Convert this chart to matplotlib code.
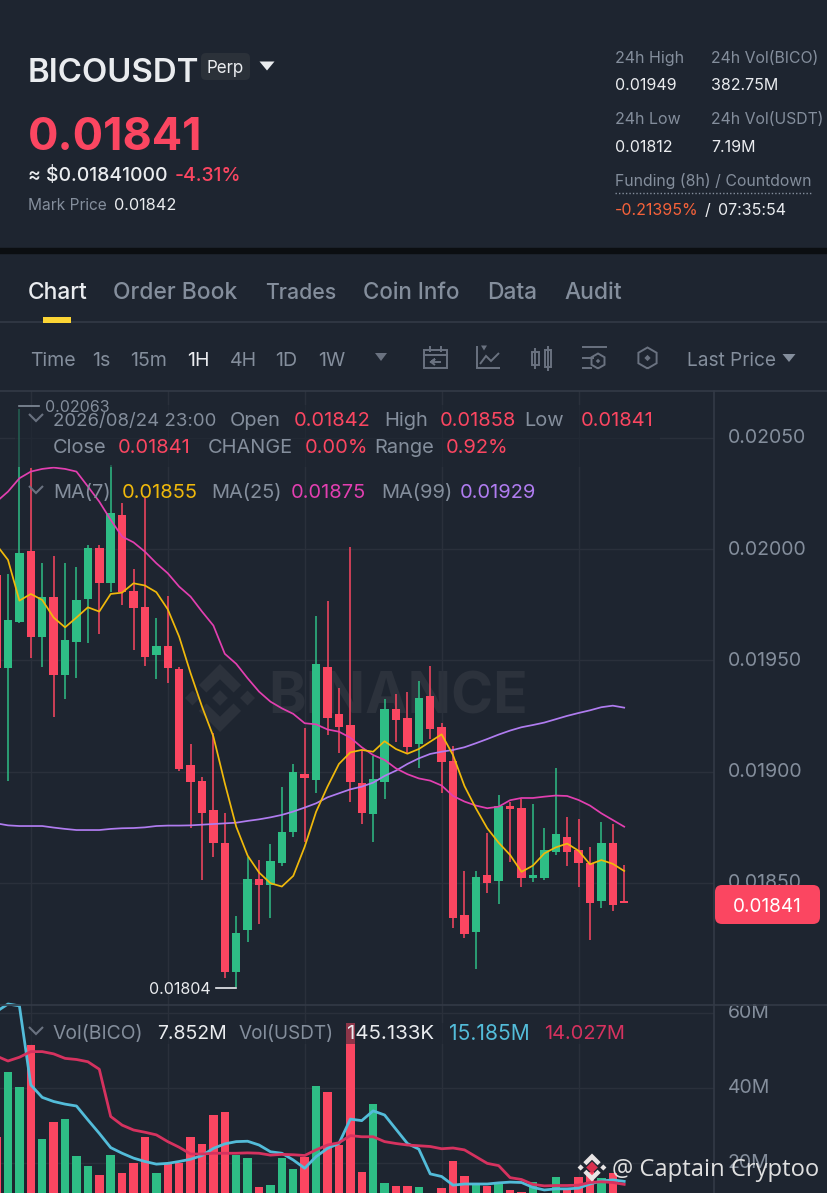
from __future__ import annotations

import matplotlib.pyplot as plt
import numpy as np
from matplotlib.lines import Line2D
from matplotlib.patches import FancyBboxPatch, Polygon, Rectangle
from matplotlib.ticker import FuncFormatter, FormatStrFormatter
from matplotlib.transforms import ScaledTranslation

plt.rcParams["font.family"] = ["Inter", "DejaVu Sans"]

W, H = 828, 1193
BG = "#1e2530"
GRID = "#2a303b"
SEP = "#333a46"
UP = "#2ebd85"
DOWN = "#fb4661"
GRAY = "#848e9c"
WHITE = "#eaecef"

# prices in 1e-5 USDT, first candle is cut by the left edge
CANDLE_INDEX = list(range(-1, 55))
OPEN = [1988.5, 1946.5, 1967.5, 1999.2, 1960.4, 1978.4, 1943.5, 1958.5, 1977.5, 2000.4, 1984.7, 2015.4, 1981.3, 1974.2,
        1952.5, 1956.3, 1946.2, 1903, 1896, 1882.8, 1867.8, 1809.9, 1828.9, 1851.7, 1849.1, 1859.2, 1873, 1899,
        1896.3, 1947.2, 1926.1, 1921, 1894.8, 1881, 1895.3, 1928.1, 1924, 1912.3, 1934, 1920, 1905, 1835.6,
        1828.1, 1853.6, 1851.1, 1884.8, 1883.9, 1852.1, 1852.1, 1864.1, 1870.8, 1864.8, 1858.9, 1842.1, 1867.8, 1842]
HIGH = [1990, 1988.9, 2063, 2036.4, 1994, 1997, 1994, 1991.9, 2001.9, 2001.9, 2037.9, 2021, 1991, 2023.4,
        1969, 1979, 1947, 1912.5, 1897.5, 1917.6, 1881.3, 1835.2, 1861.9, 1860.4, 1867.4, 1893.3, 1903.5, 1919.5,
        1970, 1976.9, 1937.8, 2001.2, 1909.8, 1907.1, 1932.6, 1934.8, 1935.7, 1940.8, 1947.5, 1921.8, 1911.6, 1855.4,
        1855.4, 1872.3, 1889.6, 1886.6, 1887.6, 1885.4, 1874.6, 1901.5, 1879.5, 1878.6, 1866.3, 1877.3, 1876.4, 1858]
LOW = [1940, 1895.9, 1966.7, 1951, 1947, 1924.8, 1932.7, 1942, 1958, 1962, 1981, 1975, 1954.8, 1947.7,
       1941.7, 1939.8, 1900.5, 1874.6, 1851.4, 1861.5, 1807.5, 1803.4, 1823.3, 1831.4, 1834.4, 1857.7, 1870.5, 1868.6,
       1890.6, 1916.5, 1908.6, 1886.6, 1876.5, 1868.6, 1887.6, 1913.5, 1908.3, 1901.5, 1914.7, 1890.6, 1829.6, 1825.4,
       1811.4, 1845.4, 1840.4, 1859.6, 1848.4, 1850.6, 1851.4, 1862.6, 1857.7, 1848.4, 1824.4, 1838.6, 1837.4, 1841]
CLOSE = [1946.5, 1968.2, 1998.5, 1960.4, 1978.4, 1943.5, 1959.2, 1977.2, 2000.4, 1984.7, 2016.5, 1980.7, 1973.5, 1951.5,
         1956.3, 1946.5, 1901.2, 1895.2, 1881.3, 1868.1, 1809.9, 1827.7, 1851.7, 1849.1, 1859.8, 1872.8, 1900, 1897.3,
         1948.3, 1924.3, 1920.3, 1895.3, 1881.3, 1896.8, 1928.1, 1923.3, 1911.3, 1933, 1919.2, 1904.2, 1834.1, 1827,
         1852.6, 1850.2, 1884.8, 1883.3, 1852.1, 1853.6, 1864.8, 1871.9, 1864.1, 1859.2, 1841.2, 1867.8, 1840.1, 1841]

MA7 = [2001.9, 1995.2, 1976.9, 1979.9, 1977.2, 1969.3, 1964.9, 1969.3, 1973.9, 1972, 1979.9, 1980.5, 1984.7, 1983.7,
       1980.7, 1973, 1960.7, 1944.3, 1929.3, 1915.8, 1894.8, 1875.3, 1862.3, 1854.7, 1849.9, 1848.4, 1853.2, 1866.3,
       1882, 1893.3, 1903.5, 1908.7, 1909.8, 1909, 1913.7, 1910.2, 1908.1, 1910.2, 1913.5, 1916.8, 1907.5, 1893.6,
       1883.6, 1874.6, 1868.1, 1862.6, 1855, 1857.8, 1863.3, 1866, 1867.7, 1864.5, 1858.4, 1860.3, 1858.6, 1855.4]
MA25 = [2021.4, 2025.9, 2031.9, 2034.9, 2036.1, 2036.7, 2036.1, 2034.9, 2028.2, 2021.4, 2013.2, 2005.7, 2003.1, 1998.9,
        1993.7, 1989.2, 1983.2, 1978.7, 1972, 1965.7, 1953, 1948.5, 1942, 1936, 1931.5, 1928.5, 1926, 1921.8,
        1921.3, 1919, 1918, 1915.3, 1911, 1907.5, 1905.3, 1901.5, 1898.9, 1897, 1896, 1893.8, 1889.1, 1886.6,
        1884.8, 1883.6, 1884.3, 1887.2, 1888.2, 1888.2, 1888.8, 1889.3, 1889.1, 1887.3, 1884.8, 1881.3, 1878.3, 1875.3]
MA99 = [1876.8, 1875.9, 1875.6, 1875.6, 1875.6, 1874.9, 1874.3, 1873.8, 1873.8, 1873.8, 1874.3, 1874.6, 1874.7, 1875,
        1875.6, 1875.8, 1875.8, 1875.9, 1876.2, 1876.5, 1876.8, 1877.1, 1877.9, 1878.6, 1879.5, 1880.6, 1882.1, 1883.9,
        1885.8, 1888.5, 1890.3, 1892.1, 1893.3, 1895.1, 1898.1, 1900.5, 1903.5, 1906, 1908, 1909, 1909.8, 1911,
        1912.8, 1914.7, 1916.7, 1918.5, 1920, 1921, 1922.1, 1923.6, 1925.1, 1926.4, 1927.6, 1929, 1929.7, 1928.8]

# volume in millions of BICO
VOLUME = [27, 44.2, 40.2, 51.5, 26.3, 31, 31.8, 21.9, 19.2, 16.9, 22.1, 17.2, 19.9, 26.8,
          17.4, 19.9, 19.9, 27, 25, 32.8, 33.7, 22, 21.2, 13.5, 14, 21.4, 18.3, 21.7,
          40.5, 38.9, 24.8, 57.2, 17.7, 35.8, 14.6, 13.9, 13.9, 13.5, 11, 13.2, 20.4, 16.6,
          14.1, 13.9, 14.8, 12.8, 12.2, 15, 11.5, 16.2, 12.8, 16.3, 17.7, 16.1, 17.2, 7.852]
VOL_MA_BLUE = [60.4, 62.4, 61.9, 40.8, 37.5, 36.4, 35.7, 35.2, 31.5, 27.9, 24.1, 22.6, 21.3, 20.4,
               19.7, 19.9, 20.4, 21, 22, 23.9, 25.1, 25.7, 25.8, 24.8, 23, 22.6, 20.8, 18.6,
               21.7, 23.9, 25.2, 31.7, 31.3, 33.9, 32.8, 29, 25.2, 23.7, 17.1, 16.4, 14.1, 14.4,
               14.4, 14.4, 14.7, 14.9, 14.8, 13.5, 12.8, 13.1, 13.1, 13.3, 14.4, 15.2, 15.5, 15.1]
VOL_MA_RED = [48.5, 47.2, 48.2, 49.7, 49.7, 49.1, 47.9, 47.6, 47, 45, 32.4, 30.1, 28.8, 28.2,
              27.5, 25.7, 24.2, 22.4, 22.4, 22.6, 22.6, 22.6, 22.7, 22.6, 22.1, 22.3, 22.2, 22,
              23.5, 24.8, 25.4, 27.3, 27, 27, 25.7, 25.2, 24.8, 24.6, 24.4, 23.8, 24, 23.5,
              21.7, 19.9, 19.3, 16.1, 15.6, 14.3, 13.9, 14, 14, 14.1, 14.8, 15, 14.8, 14.3]

PRICE_TICKS = [0.0185, 0.0190, 0.0195, 0.0200, 0.0205]
VOLUME_TICKS = [20, 40, 60]
TIME_GRID = [2, 14, 26, 38, 50]
TABS = [("Chart", 28, WHITE, 22.8), ("Order Book", 113, GRAY, 22.8), ("Trades", 265, GRAY, 21.3),
        ("Coin Info", 363, GRAY, 22.4), ("Data", 487, GRAY, 22.8), ("Audit", 564, GRAY, 22.8)]
INTERVALS = [("Time", 30, GRAY), ("1s", 92, GRAY), ("15m", 130, GRAY), ("1H", 187, WHITE),
             ("4H", 230, GRAY), ("1D", 275, GRAY), ("1W", 318, GRAY)]

fig = plt.figure(figsize=(W / 100, H / 100), dpi=100)
fig.patch.set_facecolor(BG)


def px_axes(left, top, right, bottom, **kw):
    return fig.add_axes([left / W, 1 - bottom / H, (right - left) / W, (bottom - top) / H], **kw)


def px_overlay(**kw):
    a = px_axes(0, 0, W, H, **kw)
    a.set_xlim(0, W)
    a.set_ylim(H, 0)
    a.axis("off")
    a.patch.set_alpha(0)
    return a


# faint mark sits under the candles, all other chrome above them
back = px_overlay(zorder=1)
ax = px_axes(0, 391, 714, 1005, zorder=2)
ax_vol = px_axes(0, 1005, 714, 1193, zorder=2)
ui = px_overlay(zorder=5)

# candle pane
idx = np.array(CANDLE_INDEX)
o, h, l, c = [np.array(a) / 1e5 for a in (OPEN, HIGH, LOW, CLOSE)]
colors = [UP if b >= a else DOWN for a, b in zip(o, c)]
bar_w = 0.74
ax.vlines(idx, l, h, colors=colors, linewidth=1.1, zorder=3)
ax.bar(idx, np.abs(c - o), bottom=np.minimum(o, c), width=bar_w, color=colors, zorder=3)
ax.plot(idx, np.array(MA99) / 1e5, color="#b07cf0", lw=1.25, zorder=4)
ax.plot(idx, np.array(MA25) / 1e5, color="#e23fb0", lw=1.25, zorder=4)
ax.plot(idx, np.array(MA7) / 1e5, color="#f0b90b", lw=1.25, zorder=4)
ax.set_xlim(-0.701, 61.87)
ax.set_ylim(0.0179516, 0.0207112)
ax.set_yticks(PRICE_TICKS)
ax.yaxis.set_major_formatter(FormatStrFormatter("%.5f"))

# volume pane
ax_vol.bar(idx, VOLUME, width=bar_w, color=colors, zorder=3)
ax_vol.plot(idx, VOL_MA_BLUE, color="#53bcd9", lw=2.0, zorder=4, clip_on=False)
ax_vol.plot(idx, VOL_MA_RED, color="#d6325f", lw=2.0, zorder=4)
ax_vol.set_xlim(ax.get_xlim())
ax_vol.set_ylim(12, 62.13)
ax_vol.set_yticks(VOLUME_TICKS)
ax_vol.yaxis.set_major_formatter(FuncFormatter(lambda v, _: f"{v:.0f}M"))

up_shift = ScaledTranslation(0, 1.5 / 100, fig.dpi_scale_trans)
for a in (ax, ax_vol):
    a.set_facecolor("none")
    a.yaxis.tick_right()
    a.set_xticks(TIME_GRID)
    a.tick_params(axis="x", length=0, labelbottom=False)
    a.tick_params(axis="y", length=0, pad=10, labelsize=14, labelcolor=GRAY)
    a.grid(color=GRID, lw=1.0, zorder=0)
    a.set_axisbelow(True)
    for s in a.spines.values():
        s.set_visible(False)
    for lab in a.get_yticklabels():
        lab.set_transform(lab.get_transform() + up_shift)


def label(x, y, s, color=GRAY, px=20, weight="normal", ha="left", family=None, **kw):
    # y is the middle of the capitals, px the font size in pixels
    return ui.text(x, y + 0.36 * px, s, color=color, fontsize=px * 0.72, fontweight=weight, ha=ha, va="baseline",
                   family=family if family else ["Inter", "DejaVu Sans"], **kw)


def hline(x0, x1, y, color=SEP, lw=1.2, **kw):
    ui.add_line(Line2D([x0, x1], [y, y], color=color, lw=lw, **kw))


def poly(xs, ys, color=GRAY, lw=1.4):
    ui.add_line(Line2D(xs, ys, color=color, lw=lw, solid_joinstyle="miter", solid_capstyle="butt"))


def tri(x, y, w, hh, color):
    ui.add_patch(Polygon([(x - w, y - hh), (x + w, y - hh), (x, y + hh)], color=color, lw=0))


def chevron(x, y):
    poly([x - 7, x, x + 7], [y - 4, y + 3, y - 4], color="#6a7280", lw=1.5)


def diamond(target, x, y, s, color, zorder=2):
    target.add_patch(Polygon([(x, y - s), (x + s, y), (x, y + s), (x - s, y)], color=color, lw=0, zorder=zorder))


def logo(target, x, y, r, color, centre=None, zorder=2):
    # chevrons above and below, three small diamonds across the middle
    upper = [(0, -1), (0.62, -0.38), (0.40, -0.16), (0, -0.55), (-0.40, -0.16), (-0.62, -0.38)]
    for sign in (1, -1):
        target.add_patch(Polygon([(x + u * r, y + sign * v * r) for u, v in upper], color=color, lw=0, zorder=zorder))
    diamond(target, x - 0.81 * r, y, 0.22 * r, color, zorder)
    diamond(target, x + 0.81 * r, y, 0.22 * r, color, zorder)
    diamond(target, x, y, 0.23 * r if centre is None else 0.42 * r, centre or color, zorder)


# header
hline(0, W, 251, color="#0b0e11", lw=4.6)
label(28, 70, "BICOUSDT", WHITE, 33, "semibold")
ui.add_patch(FancyBboxPatch((201, 53), 49, 27, boxstyle="round,pad=0,rounding_size=5", fc="#2b3139", ec="none"))
label(225, 67, "Perp", WHITE, 17, ha="center")
tri(267, 66, 7.5, 4.5, WHITE)
label(28, 134, "0.01841", DOWN, 45, "bold")
label(28, 174, "≈ $0.01841000", WHITE, 19.4, "medium")
label(175, 174, "-4.31%", DOWN, 19.4, "medium")
label(28, 204, "Mark Price", GRAY, 15.5)
label(114, 204, "0.01842", WHITE, 16.3)
label(615, 57, "24h High", GRAY, 16)
label(711, 57, "24h Vol(BICO)", GRAY, 15.8)
label(615, 84, "0.01949", WHITE, 16)
label(711, 84, "382.75M", WHITE, 16)
label(615, 118, "24h Low", GRAY, 16)
label(711, 118, "24h Vol(USDT)", GRAY, 15.8)
label(615, 146, "0.01812", WHITE, 16)
label(711, 146, "7.19M", WHITE, 16)
label(615, 180, "Funding (8h) / Countdown", GRAY, 15.8)
hline(615, 812, 193, color=GRAY, lw=1.0, linestyle=(0, (1, 1.5)))
label(615, 209, "-0.21395%", "#f6623a", 16)
label(705, 209, "/", WHITE, 16)
label(718, 209, "07:35:54", WHITE, 16)

# tabs
for text, x, col, size in TABS:
    label(x, 291, text, col, size, "medium")
ui.add_patch(Rectangle((43, 317), 28, 6, color="#fcd535", lw=0, zorder=3))
hline(0, W, 322)
hline(0, W, 390.5)
hline(0, W, 1005)
ui.add_line(Line2D([714, 714], [391, H], color=SEP, lw=1.2))

# toolbar
for text, x, col in INTERVALS:
    label(x, 359, text, col, 19.5)
tri(381, 357, 6, 4, "#6a7280")
label(687, 359, "Last Price", GRAY, 19)
tri(789, 358, 6.5, 4, GRAY)

ic = "#6a7280"
ui.add_patch(Rectangle((424, 350), 23, 18, fc="none", ec=ic, lw=1.4))
hline(424, 447, 355, color=ic, lw=1.4)
poly([430, 430], [346, 352], ic)
poly([441, 441], [346, 352], ic)
poly([441, 431, 435, 431, 435], [362, 362, 359, 362, 365], ic)
poly([477, 477, 500], [346, 368, 368], ic)
poly([480, 486, 491, 499], [364, 356, 361, 353], ic)
tri(484, 348, 3, 2.5, ic)
ui.add_patch(Rectangle((532, 352), 7, 13, fc="none", ec=ic, lw=1.4))
ui.add_patch(Rectangle((545, 350), 6, 17, fc="none", ec=ic, lw=1.4))
poly([535.5, 535.5], [348, 369], ic)
poly([548, 548], [346, 371], ic)
hline(583, 606, 347, color=ic, lw=1.4)
hline(583, 593, 358, color=ic, lw=1.4)
hline(583, 591, 368, color=ic, lw=1.4)
for cx, cy, r in [(598, 361, 7.5), (647.5, 358, 10.5)]:
    ang = np.deg2rad(np.arange(90, 451, 60))
    poly(cx + r * np.cos(ang), cy + r * np.sin(ang), ic)
    diamond(ui, cx, cy, r * 0.3, ic)

# faint exchange mark under the candles
logo(back, 220, 698, 34, "#2c323c")
back.text(268, 698, "BINANCE", color="#2c323c", fontsize=41, fontweight="bold", ha="left", va="center")

# dim backing of the legend rows
ui.add_patch(Rectangle((15, 405), 645, 62, color=BG, alpha=0.6, lw=0))
ui.add_patch(Rectangle((28, 1023), 582, 21, color=BG, alpha=0.5, lw=0))

chevron(36, 418)
label(53, 419, "2026/08/24 23:00", GRAY, 18.6)
for x, y, text, col in [(230, 419, "Open", GRAY), (294, 419, "0.01842", DOWN), (384, 419, "High", GRAY),
                        (440, 419, "0.01858", DOWN), (524, 419, "Low", GRAY), (581, 419, "0.01841", DOWN),
                        (53, 446, "Close", GRAY), (118, 446, "0.01841", DOWN), (208, 446, "CHANGE", GRAY),
                        (305, 446, "0.00%", DOWN), (374, 446, "Range", GRAY), (446, 446, "0.92%", DOWN),
                        (53, 491, "MA(7)", GRAY), (122, 491, "0.01855", "#f0b90b"), (211, 491, "MA(25)", GRAY),
                        (291, 491, "0.01875", "#e23fb0"), (381, 491, "MA(99)", GRAY),
                        (460, 491, "0.01929", "#b07cf0")]:
    label(x, y, text, col, 20)
chevron(36, 490)

hline(19, 39, 406, color=GRAY, lw=1.2)
label(45, 406, "0.02063", GRAY, 16)
hline(216, 236, 988, color=WHITE, lw=1.2)
label(149, 988, "0.01804", WHITE, 16)

ui.add_patch(FancyBboxPatch((715, 885), 105, 39, boxstyle="round,pad=0,rounding_size=7", fc=DOWN, ec="none"))
label(767, 905, "0.01841", "white", 19, ha="center")

chevron(36, 1031)
for x, text, col, size in [(53, "Vol(BICO)", GRAY, 19.4), (157, "7.852M", WHITE, 19.5), (239, "Vol(USDT)", GRAY, 19),
                           (347, "145.133K", WHITE, 20.5), (449, "15.185M", "#53bcd9", 21),
                           (544, "14.027M", "#d6325f", 20)]:
    label(x, 1032, text, col, size)

# screenshot credit on top
logo(ui, 592, 1167.5, 14, "#e8e4e4", centre="#d9304f", zorder=7)
label(612, 1167, "@ Captain Cryptoo", "#e0e0e0", 23.8, family=["Open Sans", "DejaVu Sans"], zorder=8)

fig.savefig("out.png", dpi=100, facecolor=BG)
